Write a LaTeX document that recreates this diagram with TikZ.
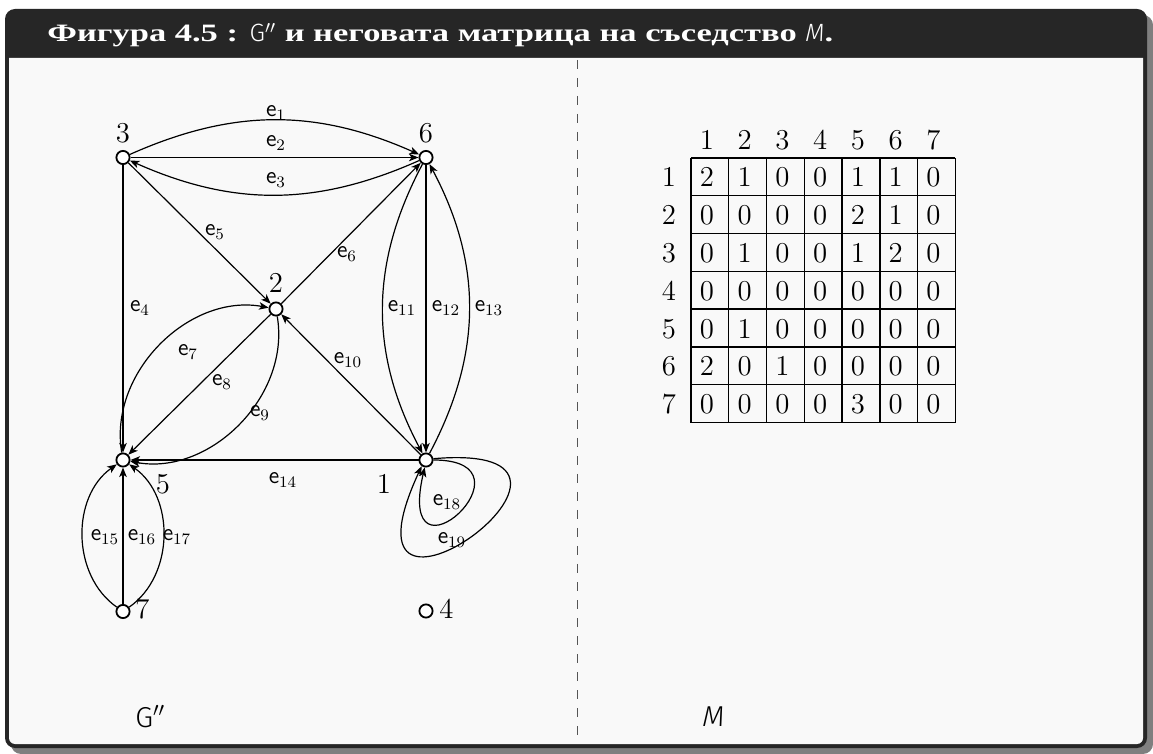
\documentclass[tikz,border=0pt]{standalone}
\usepackage{fontspec}
\newfontfamily\titlefont[FakeStretch=1.38]{Liberation Serif}
\newfontfamily\capfont[UprightFont=* Light, ItalicFont=* Light Italic]{Fira Sans}
\usetikzlibrary{arrows.meta}
\definecolor{framecol}{HTML}{262626}
\definecolor{backcol}{HTML}{F9F9F9}
\definecolor{shadowcol}{HTML}{7F7F7F}
\definecolor{dashcol}{HTML}{555555}
\tikzset{
  vertex/.style={circle, draw, line width=0.9pt, fill=white, minimum size=6.6pt, inner sep=0pt},
  arr/.style={line width=0.6pt, -{Stealth[length=4.8pt,width=3.8pt,inset=1.3pt]}},
  vlbl/.style={font=\fontsize{14.4}{16}\selectfont, anchor=base, inner sep=0pt},
  elbl/.style={font=\fontsize{12}{14}\selectfont, inner sep=0pt},
  numlbl/.style={font=\fontsize{14.4}{16}\selectfont, anchor=base, inner sep=0pt},
  gridline/.style={line width=0.7pt},
}
\begin{document}
\begin{tikzpicture}[x=0.5pt,y=0.5pt]
\useasboundingbox (0,0) rectangle (1153,-754);
% box
\fill[shadowcol, rounded corners=5pt] (11,-15) rectangle (1153,-754);
\fill[framecol, rounded corners=5pt] (5,-9) rectangle (1147,-748);
\fill[backcol] (9,-58) -- (1143,-58) [rounded corners=3pt] -- (1143,-744) -- (9,-744) [sharp corners] -- (9,-58) -- cycle;
\node[anchor=base west, text=white, inner sep=0pt, font=\titlefont\bfseries\fontsize{12.5}{14}\selectfont] (title) at (47,-42)
  {Фигура 4.5 : {\capfont\mdseries G}$''$ и неговата матрица на съседство {\capfont\mdseries\itshape M}.};
\draw[dashcol, line width=0.5pt, dash pattern=on 4.5pt off 4.5pt] (577,-60) -- (577,-744);

% vertices
\node[vertex] (n3) at (123,-157.5) {};
\node[vertex] (n6) at (426,-157.5) {};
\node[vertex] (n2) at (276,-309) {};
\node[vertex] (n5) at (123,-460) {};
\node[vertex] (n1) at (426,-460) {};
\node[vertex] (n7) at (123,-611.5) {};
\node[vertex] (n4) at (426,-611) {};
\node[vlbl] (l3) at (123,-142.5) {3};
\node[vlbl] (l6) at (426,-142.5) {6};
\node[vlbl] (l2) at (276,-293) {2};
\node[vlbl] (l5) at (163,-494) {5};
\node[vlbl] (l1) at (384,-494) {1};
\node[vlbl] (l7) at (142.5,-618) {7};
\node[vlbl] (l4) at (446.5,-618) {4};

% edges
\draw[arr] (n3) to[bend left=24] (n6);
\draw[arr] (n3) -- (n6);
\draw[arr] (n6) to[bend left=24] (n3);
\draw[arr] (n3) -- (n5);
\draw[arr] (n3) -- (n2);
\draw[arr] (n2) -- (n6);
\draw[arr] (n5) to[bend left=55] (n2);
\draw[arr] (n2) -- (n5);
\draw[arr] (n2) to[bend left=55] (n5);
\draw[arr] (n1) -- (n2);
\draw[arr] (n6) to[bend right=28] (n1);
\draw[arr] (n6) -- (n1);
\draw[arr] (n1) to[bend right=28] (n6);
\draw[arr] (n1) -- (n5);
\draw[arr] (n7) to[bend left=55] (n5);
\draw[arr] (n7) -- (n5);
\draw[arr] (n7) to[bend right=55] (n5);
\draw[arr] (n1.0) .. controls +(110,0) and +(-30,-130) .. (n1.-100);
\draw[arr] (n1.10) .. controls +(220,19) and +(-99,-213) .. (n1.-125);

% edge labels
\node[elbl] (e1) at (276,-112.7) {$\mathsf{e}_{1}$};
\node[elbl] (e2) at (276,-143) {$\mathsf{e}_{2}$};
\node[elbl] (e3) at (276,-180) {$\mathsf{e}_{3}$};
\node[elbl] (e4) at (140,-308) {$\mathsf{e}_{4}$};
\node[elbl] (e5) at (215,-232) {$\mathsf{e}_{5}$};
\node[elbl] (e6) at (347,-254) {$\mathsf{e}_{6}$};
\node[elbl] (e7) at (188,-352) {$\mathsf{e}_{7}$};
\node[elbl] (e8) at (222,-382) {$\mathsf{e}_{8}$};
\node[elbl] (e9) at (260,-413) {$\mathsf{e}_{9}$};
\node[elbl] (e10) at (348,-360) {$\mathsf{e}_{10}$};
\node[elbl] (e11) at (402,-308) {$\mathsf{e}_{11}$};
\node[elbl] (e12) at (446,-308) {$\mathsf{e}_{12}$};
\node[elbl] (e13) at (489,-308) {$\mathsf{e}_{13}$};
\node[elbl] (e14) at (283,-480) {$\mathsf{e}_{14}$};
\node[elbl] (e15) at (105,-537) {$\mathsf{e}_{15}$};
\node[elbl] (e16) at (142,-537) {$\mathsf{e}_{16}$};
\node[elbl] (e17) at (177,-537) {$\mathsf{e}_{17}$};
\node[elbl] (e18) at (447,-502) {$\mathsf{e}_{18}$};
\node[elbl] (e19) at (452,-540) {$\mathsf{e}_{19}$};

% matrix
\foreach \k in {0,...,7} {
  \draw[gridline] ({691+37.76*\k},-158) -- ({691+37.76*\k},-422.6);
  \draw[gridline] (691,{-158-37.8*\k}) -- (955.3,{-158-37.8*\k});
}
\foreach \c in {1,...,7}
  \node[numlbl] (h\c) at ({688+37.76*(\c-0.5)},-149.3) {\c};
\foreach \r in {1,...,7}
  \node[numlbl] (r\r) at (669,{-158-37.8*(\r-0.5)-10}) {\r};
\foreach \row [count=\r] in {{2,1,0,0,1,1,0},{0,0,0,0,2,1,0},{0,1,0,0,1,2,0},{0,0,0,0,0,0,0},{0,1,0,0,0,0,0},{2,0,1,0,0,0,0},{0,0,0,0,3,0,0}} {
  \foreach \v [count=\c] in \row {
    \node[numlbl] (m-\r-\c) at ({688+37.76*(\c-0.5)},{-158-37.8*(\r-0.5)-10}) {\v};
  }
}

% captions
\node[anchor=base west, inner sep=0pt, font=\capfont\fontsize{14.4}{16}\selectfont] (capG) at (135,-727) {G$''$};
\node[anchor=base west, inner sep=0pt, font=\capfont\itshape\fontsize{14.4}{16}\selectfont] (capM) at (702,-726) {M};
\end{tikzpicture}
\end{document}
